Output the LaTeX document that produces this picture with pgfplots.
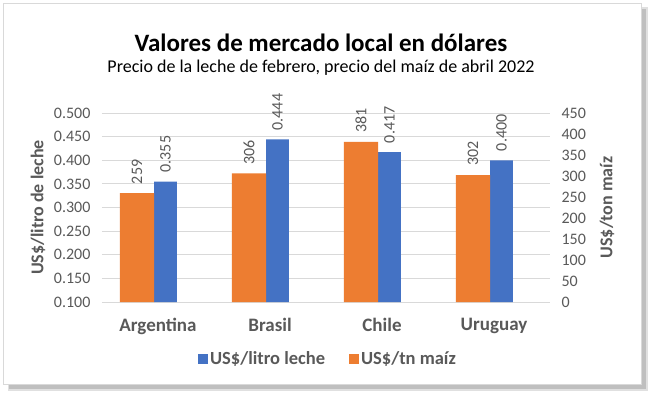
\documentclass[border=0pt]{standalone}
\usepackage{pgfplots}
\pgfplotsset{compat=1.18}
\usepackage{fontspec}
\setmainfont{Carlito}
\pgfkeys{/pgf/number format/assume math mode=true}
\definecolor{cblue}{HTML}{4472C4}
\definecolor{corange}{HTML}{ED7D31}
\definecolor{tgray}{HTML}{595959}
\definecolor{ggray}{HTML}{D9D9D9}
\begin{document}
\begin{tikzpicture}[x=1pt,y=1pt]
\path[use as bounding box] (0,0) rectangle (656,397);
% frame with shadow
\fill[black!12] (8,6) rectangle (648,390);
\fill[black!25] (9,8) rectangle (646,388);
\fill[white] (3,13) rectangle (641,393);
\draw[black!15,line width=1pt] (3,13) rectangle (641,393);
\node[font=\fontsize{25}{28}\selectfont\bfseries] at (321,354) {Valores de mercado local en dólares};
\node[font=\fontsize{18}{21}\selectfont] at (321,329) {Precio de la leche de febrero, precio del maíz de abril 2022};
\begin{axis}[
  at={(102pt,95pt)}, anchor=south west,
  scale only axis, width=448pt, height=189pt,
  xmin=-0.5, xmax=3.5, ymin=0.1, ymax=0.5,
  xtick={0,1,2,3}, xticklabels={Argentina,Brasil,Chile,Uruguay},
  ytick={0.1,0.15,...,0.51},
  yticklabel style={/pgf/number format/fixed, /pgf/number format/fixed zerofill, /pgf/number format/precision=3},
  ymajorgrids, grid style={ggray, line width=0.8pt},
  axis line style={draw=none}, major tick length=0pt,
  tick label style={text=tgray},
  yticklabel style={font=\fontsize{16}{19}\selectfont, xshift=-8pt},
  xticklabel style={font=\fontsize{19}{22}\selectfont\bfseries, yshift=-13pt},
  ylabel={US\$/litro de leche},
  ylabel style={font=\fontsize{18}{21}\selectfont\bfseries, text=tgray, at={(axis description cs:-0.143,0.5)}, anchor=center},
  legend style={at={(axis description cs:0.5,0)}, anchor=center, yshift=-57pt, xshift=2pt, draw=none, legend columns=2,
    font=\fontsize{18.5}{21}\selectfont\bfseries, text=tgray,
    /tikz/every even column/.append style={column sep=22pt},
    /tikz/every odd column/.append style={inner xsep=5pt}},
  legend image code/.code={\fill[#1, draw=none] (0pt,-5pt) rectangle (10pt,5pt);},
  ]
\addplot[ybar, fill=cblue, draw=none, bar width=0.205, bar shift=0pt,
  nodes near coords={\pgfmathprintnumber[fixed,fixed zerofill,precision=3]{\pgfplotspointmeta}},
  every node near coord/.append style={rotate=90, anchor=west, inner xsep=9pt, inner ysep=0pt, text=tgray, font=\fontsize{16}{19}\selectfont}]
  coordinates {(0.067,0.355) (1.067,0.444) (2.067,0.417) (3.067,0.400)};
\addlegendentry{US\$/litro leche}
\addlegendimage{fill=corange}
\addlegendentry{US\$/tn maíz}
\end{axis}
\begin{axis}[
  at={(102pt,95pt)}, anchor=south west,
  scale only axis, width=448pt, height=189pt,
  xmin=-0.5, xmax=3.5, ymin=0, ymax=450,
  xtick=\empty,
  ytick={0,50,...,450},
  axis y line*=right, axis x line=none,
  axis line style={draw=none}, major tick length=0pt,
  yticklabel style={font=\fontsize{16}{19}\selectfont, text=tgray, xshift=8pt},
  ylabel={US\$/ton maíz},
  ylabel style={font=\fontsize{18}{21}\selectfont\bfseries, text=tgray, at={(axis description cs:1.127,0.5)}, anchor=center, rotate=0},
  ]
\addplot[ybar, fill=corange, draw=none, bar width=0.304, bar shift=0pt,
  nodes near coords,
  every node near coord/.append style={rotate=90, anchor=west, inner xsep=9pt, inner ysep=0pt, text=tgray, font=\fontsize{16}{19}\selectfont}]
  coordinates {(-0.1875,259) (0.8125,306) (1.8125,381) (2.8125,302)};
\end{axis}
\end{tikzpicture}
\end{document}
